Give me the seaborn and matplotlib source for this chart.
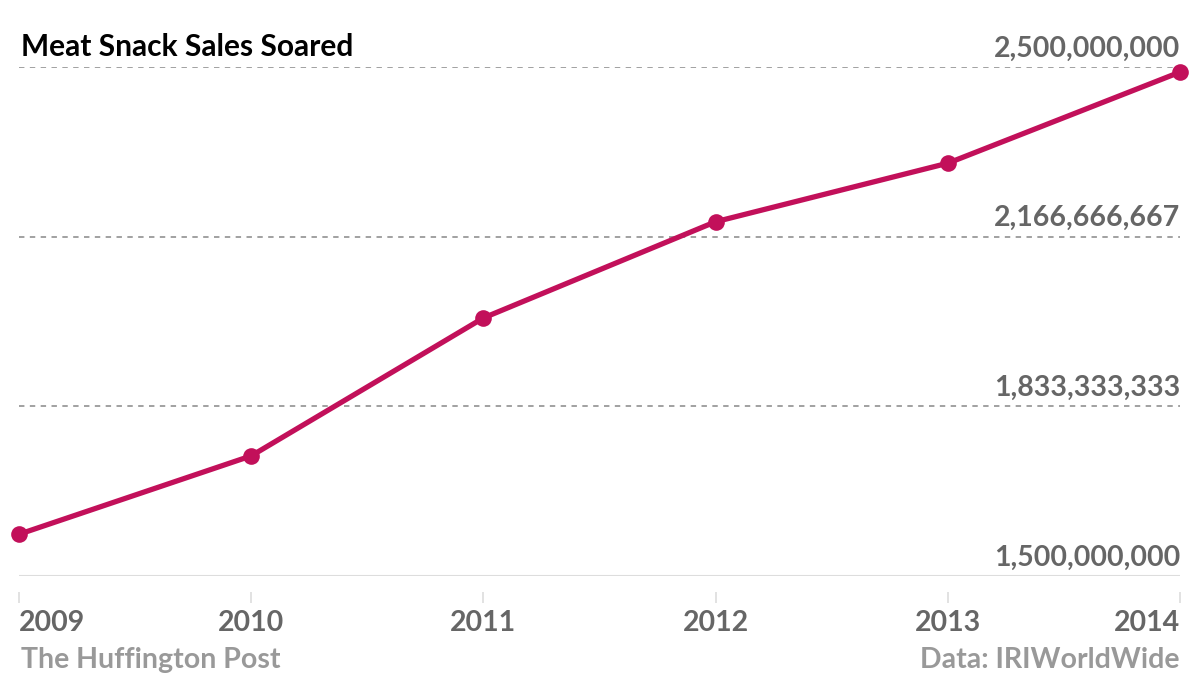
import pandas as pd
import matplotlib.pyplot as plt
import matplotlib.transforms as mtransforms
import seaborn as sns

# ---------------- DATA ----------------
years = [2009, 2010, 2011, 2012, 2013, 2014]
sales = [1582000000, 1736000000, 2007000000, 2196000000, 2311000000, 2490000000]
y_ticks = [1500000000, 1833333333, 2166666667, 2500000000]
title = "Meat Snack Sales Soared"
source_left = "The Huffington Post"
source_right = "Data: IRIWorldWide"

df = pd.DataFrame({"year": years, "sales": sales})

# ---------------- STYLE ----------------
sns.set_style("white")
plt.rcParams["font.family"] = ["Lato", "DejaVu Sans"]
LINE = "#c2105a"
TICK_GREY = "#666666"
FOOT_GREY = "#999999"
FS = 20.5

fig = plt.figure(figsize=(12, 6.76), dpi=100)
ax = fig.add_axes([19 / 1200, 100 / 676, 1161 / 1200, 509 / 676])

# grid lines (dotted) and solid baseline
for t in y_ticks[1:]:
    ax.axhline(t, color="#9a9a9a", lw=1.3, ls=(0, (3, 3)), zorder=1)
ax.axhline(y_ticks[0], color="#dddddd", lw=1.5, zorder=1)

sns.lineplot(data=df, x="year", y="sales", ax=ax, color=LINE, lw=3.8,
             marker="o", markersize=12, markeredgewidth=0, clip_on=False, zorder=3)

ax.set_xlim(years[0], years[-1])
ax.set_ylim(y_ticks[0], y_ticks[-1])
ax.set_xlabel("")
ax.set_ylabel("")

for s in ax.spines.values():
    s.set_visible(False)
ax.spines["bottom"].set_position(("outward", 11.5))

ax.set_yticks(y_ticks)
ax.set_yticklabels([])
ax.tick_params(axis="y", length=0)

ax.set_xticks(years)
ax.set_xticklabels([str(y) for y in years], fontsize=FS, fontweight="bold", color=TICK_GREY)
ax.tick_params(axis="x", direction="out", length=8, width=1.2, color="#dddddd", pad=5,
               bottom=True)
labels = ax.get_xticklabels()
labels[0].set_ha("left")
labels[-1].set_ha("right")

# y value labels above the grid lines, right aligned
trans = mtransforms.blended_transform_factory(ax.transAxes, ax.transData)
for t in y_ticks:
    ax.annotate(f"{t:,}", xy=(1, t), xycoords=trans, xytext=(0, 4),
                textcoords="offset points", ha="right", va="bottom",
                fontsize=FS, fontweight="bold", color=TICK_GREY)

ax.annotate(title, xy=(0, y_ticks[-1]), xycoords=trans, xytext=(1.5, 4),
            textcoords="offset points", ha="left", va="bottom",
            fontsize=21.5, fontweight="bold", color="black")

fig.text(21 / 1200, 1 - 668 / 676, source_left, ha="left", va="baseline",
         fontsize=FS, fontweight="bold", color=FOOT_GREY)
fig.text(1180 / 1200, 1 - 668 / 676, source_right, ha="right", va="baseline",
         fontsize=FS, fontweight="bold", color=FOOT_GREY)

fig.savefig("out.png", dpi=100)
